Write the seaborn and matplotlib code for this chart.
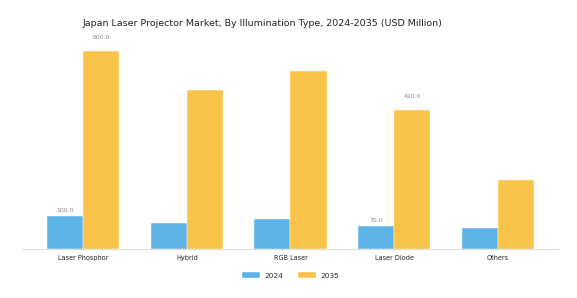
import matplotlib
matplotlib.use("Agg")
import matplotlib.pyplot as plt
import seaborn as sns
import pandas as pd

categories = ["Laser Phosphor", "Hybrid", "RGB Laser", "Laser Diode", "Others"]
years = ["2024", "2035"]
values_2024 = [100, 80, 90, 70, 65]
values_2035 = [600, 480, 540, 420, 210]
colors = ["#5DB3E6", "#F9C349"]

df = pd.DataFrame({
    "Type": categories * 2,
    "Year": [years[0]] * len(categories) + [years[1]] * len(categories),
    "Value": values_2024 + values_2035,
})

sns.set_style("white")
plt.rcParams["font.family"] = ["DejaVu Sans"]

fig = plt.figure(figsize=(5.77, 2.98), dpi=100)
ax = fig.add_axes([23/577, 49/298, 535/577, 218/298])

sns.barplot(data=df, x="Type", y="Value", hue="Year", order=categories,
            hue_order=years, palette=colors, width=0.7, ax=ax,
            edgecolor="#ffffff", linewidth=0.3, saturation=1)

ax.set_xlim(-0.58, 4.58)
ax.set_ylim(0, 660)
ax.set_xlabel("")
ax.set_ylabel("")
ax.set_yticks([])
for s in ["top", "right", "left"]:
    ax.spines[s].set_visible(False)
ax.spines["bottom"].set_color("#dddddd")
ax.spines["bottom"].set_linewidth(0.8)
ax.tick_params(axis="x", labelsize=4.7, colors="#999999", length=2.5, width=0.6,
               labelcolor="#222222", pad=1.5)

# value labels on selected bars
label_idx = {0, 3}
for ci, cont in enumerate(ax.containers):
    for i, bar in enumerate(cont):
        if i in label_idx:
            val = (values_2024 if ci == 0 else values_2035)[i]
            ax.annotate(f"{val:.1f}", (bar.get_x() + bar.get_width() / 2, bar.get_height()),
                        xytext=(0, 2 if ci == 0 else 8), textcoords="offset points",
                        ha="center", va="bottom", fontsize=4.4, color="#888888")

leg = ax.legend(loc="upper center", bbox_to_anchor=(0.5, -0.075), ncol=2, frameon=False,
                fontsize=5.3, handlelength=2.4, handleheight=0.9, columnspacing=2.0,
                handletextpad=0.6)

fig.text(262/577, 1 - 23/298, "Japan Laser Projector Market, By Illumination Type, 2024-2035 (USD Million)",
         ha="center", va="center", fontsize=6.8, color="#222222")

fig.savefig("out.png", dpi=100)
